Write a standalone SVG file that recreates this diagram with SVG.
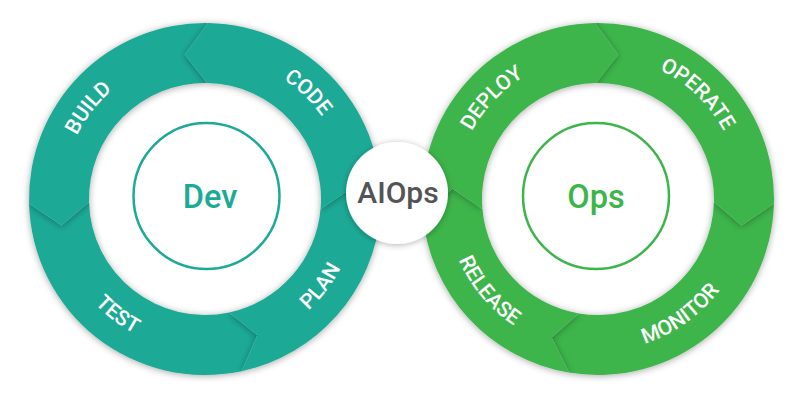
<svg xmlns="http://www.w3.org/2000/svg" xmlns:xlink="http://www.w3.org/1999/xlink" width="800" height="406" viewBox="0 0 800 406">
  <defs>
    <filter id="seg" x="-20%" y="-20%" width="140%" height="140%">
      <feDropShadow dx="0" dy="1" stdDeviation="3.5" flood-color="#000" flood-opacity="0.34"/>
    </filter>
    <filter id="hub" x="-30%" y="-30%" width="160%" height="160%">
      <feDropShadow dx="0" dy="1" stdDeviation="3" flood-color="#000" flood-opacity="0.3"/>
    </filter>
    <path id="pCODE" d="M165.6,61.5 A143,143 0 0 1 343.8,233.6"/>
    <path id="pBUILD" d="M72.4,252.6 A143,143 0 0 1 224.9,57.4"/>
    <path id="pTEST" d="M54.1,180.5 A152,152 0 0 0 264.4,338.9"/>
    <path id="pPLAN" d="M186.5,349.9 A152,152 0 0 0 344.9,139.6"/>
    <path id="pDEPLOY" d="M460.9,239.6 A143,143 0 0 1 631.4,59.9"/>
    <path id="pOPERATE" d="M557.4,61.9 A143,143 0 0 1 737.1,232.4"/>
    <path id="pRELEASE" d="M455.2,147 A152,152 0 0 0 624.4,348.7"/>
    <path id="pMONITOR" d="M535,337.3 A152,152 0 0 0 749.3,184.4"/>
  </defs>
  <style>
    .dev { fill: #1baa96; filter: url(#seg); }
    .ops { fill: #3cb54b; filter: url(#seg); }
    .lbl { fill: #ffffff; font-family: Roboto, "Liberation Sans", sans-serif; font-size: 21px; font-weight: 500; letter-spacing: 0px; }
    .core { fill: #ffffff; stroke-width: 2.5; }
    .big { font-family: Roboto, "Liberation Sans", sans-serif; font-size: 32.5px; font-weight: 500; text-anchor: middle; }
  </style>

  <!-- Dev ring (flow counter-clockwise) -->
  <g id="dev-ring">
    <g id="seg-test">
      <path class="dev" d="M29.06,203.61 A176,176 0 0 0 241.59,371.15 L257.32,335.3 L229.12,312.47 A116,116 0 0 1 89.04,202.04 L61.45,225.61 Z"/>
      <text class="lbl"><textPath href="#pTEST" startOffset="50%" text-anchor="middle">TEST</textPath></text>
    </g>
    <g id="seg-plan">
      <path class="dev" d="M241.59,371.15 A176,176 0 0 0 380.33,214.34 L350.64,188.82 L320.56,209.11 A116,116 0 0 1 229.12,312.47 L257.32,335.3 Z"/>
      <text class="lbl"><textPath href="#pPLAN" startOffset="50%" text-anchor="middle">PLAN</textPath></text>
    </g>
    <g id="seg-build">
      <path class="dev" d="M208.07,23.03 A176,176 0 0 0 29.06,203.61 L61.45,225.61 L89.04,202.04 A116,116 0 0 1 207.02,83.02 L184.68,54.42 Z"/>
      <text class="lbl"><textPath href="#pBUILD" startOffset="50%" text-anchor="middle">BUILD</textPath></text>
    </g>
    <g id="seg-code">
      <path class="dev" d="M380.33,214.34 A176,176 0 0 0 208.07,23.03 L184.68,54.42 L207.02,83.02 A116,116 0 0 1 320.56,209.11 L350.64,188.82 Z"/>
      <text class="lbl"><textPath href="#pCODE" startOffset="50%" text-anchor="middle">CODE</textPath></text>
    </g>
  </g>

  <!-- Ops ring (flow clockwise) -->
  <g id="ops-ring">
    <g id="seg-monitor">
      <path class="ops" d="M773.94,203.61 A176,176 0 0 1 568.95,372.59 L551.67,337.45 L578.85,313.41 A116,116 0 0 0 713.96,202.04 L741.55,225.61 Z"/>
      <text class="lbl"><textPath href="#pMONITOR" startOffset="50%" text-anchor="middle">MONITOR</textPath></text>
    </g>
    <g id="seg-release">
      <path class="ops" d="M568.95,372.59 A176,176 0 0 1 422.67,214.34 L452.36,188.82 L482.44,209.11 A116,116 0 0 0 578.85,313.41 L551.67,337.45 Z"/>
      <text class="lbl"><textPath href="#pRELEASE" startOffset="50%" text-anchor="middle">RELEASE</textPath></text>
    </g>
    <g id="seg-operate">
      <path class="ops" d="M594.93,23.03 A176,176 0 0 1 773.94,203.61 L741.55,225.61 L713.96,202.04 A116,116 0 0 0 595.98,83.02 L618.32,54.42 Z"/>
      <text class="lbl"><textPath href="#pOPERATE" startOffset="50%" text-anchor="middle">OPERATE</textPath></text>
    </g>
    <g id="seg-deploy">
      <path class="ops" d="M422.67,214.34 A176,176 0 0 1 594.93,23.03 L618.32,54.42 L595.98,83.02 A116,116 0 0 0 482.44,209.11 L452.36,188.82 Z"/>
      <text class="lbl"><textPath href="#pDEPLOY" startOffset="50%" text-anchor="middle">DEPLOY</textPath></text>
    </g>
  </g>

  <g id="dev">
    <circle class="core" cx="206.5" cy="196" r="73" stroke="#1baa96"/>
    <text class="big" x="210" y="208" fill="#1baa96">Dev</text>
  </g>

  <g id="ops">
    <circle class="core" cx="596" cy="196" r="73" stroke="#3cb54b"/>
    <text class="big" x="596" y="208" fill="#3cb54b">Ops</text>
  </g>

  <g id="aiops">
    <circle cx="397" cy="193" r="51" fill="#ffffff" filter="url(#hub)"/>
    <text x="398" y="203" font-family="Roboto, 'Liberation Sans', sans-serif" font-size="30" font-weight="500" fill="#545457" text-anchor="middle">AIOps</text>
  </g>
</svg>
